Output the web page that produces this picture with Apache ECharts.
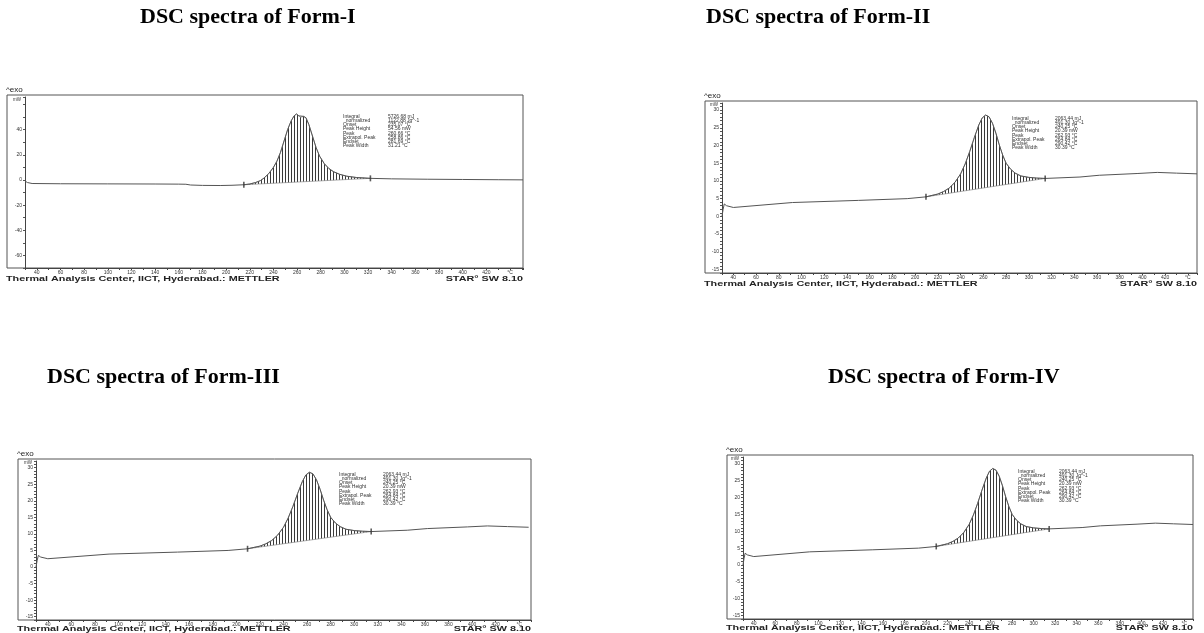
<!DOCTYPE html>
<html>
<head>
<meta charset="utf-8">
<script src="https://cdn.jsdelivr.net/npm/echarts@6/dist/echarts.min.js"></script>
<style>
html, body { margin: 0; padding: 0; background: #fff; }
#main { width: 1204px; height: 633px; }
</style>
</head>
<body>
<div id="main"></div>
<script>
// Form-I trace: temperature (°C) and heat flow (mW)
var formITemp = [30, 32, 36, 60, 100, 140, 160, 166, 170, 180, 195, 205, 215, 220, 225, 229, 232, 236, 240, 243, 246, 249, 252, 255, 257.5, 259.5, 261.5, 263, 265.5, 267.5, 270, 273, 276, 279, 283, 287, 291, 296, 302, 310, 322, 340, 370, 400, 430, 451];
var formIHeat = [-0.8, -2.0, -2.8, -3.0, -3.1, -3.2, -3.3, -3.4, -4.0, -4.3, -4.4, -4.2, -3.8, -3.2, -2.0, -0.5, 1.5, 5, 10, 15, 22, 31, 40, 47, 51, 52.5, 51, 49.8, 50.6, 49.5, 44, 35, 26, 19, 13, 9, 6.5, 4.5, 3.0, 2.0, 1.3, 0.9, 0.6, 0.4, 0.2, 0.1];
var formILimits = [[215, -3.8], [322, 1.3]];

// Form-II trace (Form-III and Form-IV show the same run)
var formIITemp = [30, 31, 32, 33, 34, 35, 40, 92, 150, 193, 209.5, 220, 225, 230, 235, 240, 244, 248, 252, 256, 259, 262, 265, 268, 271, 274, 277, 280, 284, 288, 293, 300, 307, 314.4, 345, 362, 396, 413, 430, 448];
var formIIHeat = [0, 2.0, 3.5, 3.7, 3.0, 2.5, 2.5, 3.9, 4.5, 5.0, 5.5, 6.3, 7.0, 8.0, 9.6, 12.0, 14.8, 18.3, 22.2, 25.8, 27.8, 28.6, 28.1, 26.3, 23.5, 20.2, 17.3, 15.0, 13.3, 12.2, 11.4, 11.0, 10.8, 10.7, 11.1, 11.6, 12.1, 12.4, 12.2, 12.0];
var formIILimits = [[209.5, 5.5], [314.4, 10.7]];

var statLabels = ['Integral', '  normalized', 'Onset', 'Peak Height', 'Peak', 'Extrapol. Peak', 'Endset', 'Peak Width'];
var formIStats = ['5726.68 mJ', '1122.88 Jg^-1', '235.07 °C', '54.56 mW', '260.66 °C', '258.86 °C', '281.69 °C', '31.21 °C'];
var formIIStats = ['2063.44 mJ', '491.30 Jg^-1', '240.25 °C', '20.39 mW', '262.93 °C', '264.84 °C', '290.42 °C', '30.39 °C'];

var titles = ['DSC spectra of Form-I', 'DSC spectra of Form-II', 'DSC spectra of Form-III', 'DSC spectra of Form-IV'];
var footerLeft = 'Thermal Analysis Center, IICT, Hyderabad.: METTLER';
var footerRight = 'STAR\u00b0 SW 8.10';

// layout of the four panels
var panels = [
    { temp: formITemp, heat: formIHeat, lim: formILimits, stats: formIStats,
      grid: { left: 25, top: 97, width: 498, height: 171 }, frameLeft: 7,
      xMax: 451, yMin: -70, yMax: 66, yStep: 10, yLabelStep: 20, yLabelMin: -60, yLabelMax: 40,
      title: [140, 18], statsPos: [343, 388, 114], footerTop: 275 },
    { temp: formIITemp, heat: formIIHeat, lim: formIILimits, stats: formIIStats,
      grid: { left: 722, top: 103, width: 475, height: 170 }, frameLeft: 705,
      xMax: 448, yMin: -16, yMax: 32, yStep: 1, yLabelStep: 5, yLabelMin: -15, yLabelMax: 30,
      title: [706, 18], statsPos: [1012, 1055, 116], footerTop: 279.5 },
    { temp: formIITemp, heat: formIIHeat, lim: formIILimits, stats: formIIStats,
      grid: { left: 36, top: 461, width: 495, height: 159 }, frameLeft: 18,
      xMax: 450, yMin: -16, yMax: 32, yStep: 1, yLabelStep: 5, yLabelMin: -15, yLabelMax: 30,
      title: [47, 378], statsPos: [339, 383, 472], footerTop: 624.5 },
    { temp: formIITemp, heat: formIIHeat, lim: formIILimits, stats: formIIStats,
      grid: { left: 743, top: 457, width: 450, height: 162 }, frameLeft: 727,
      xMax: 448, yMin: -16, yMax: 32, yStep: 1, yLabelStep: 5, yLabelMin: -15, yLabelMax: 30,
      title: [828, 378], statsPos: [1018, 1059, 469], footerTop: 624 }
];

function hatchPattern() {
    var c = document.createElement('canvas');
    c.width = 3; c.height = 4;
    var ctx = c.getContext('2d');
    ctx.fillStyle = '#3a3a3a';
    ctx.fillRect(0, 0, 1, 4);
    return c;
}
var pattern = hatchPattern();

function hatchItem(p) {
    return function (params, api) {
        var pts = [api.coord(p.lim[0])];
        for (var i = 0; i < p.temp.length; i++) {
            if (p.temp[i] > p.lim[0][0] && p.temp[i] < p.lim[1][0]) {
                pts.push(api.coord([p.temp[i], p.heat[i]]));
            }
        }
        pts.push(api.coord(p.lim[1]));
        return {
            type: 'polygon',
            shape: { points: pts },
            style: { fill: { image: pattern, repeat: 'repeat' }, stroke: '#777', lineWidth: 0.6 }
        };
    };
}

var grids = [], xAxes = [], yAxes = [], series = [], graphics = [];
var smallFont = 'Liberation Sans';
var footerFont = 'bold 8px "Liberation Sans"';

panels.forEach(function (p, k) {
    grids.push(p.grid);
    xAxes.push({
        type: 'value', gridIndex: k, min: 30, max: p.xMax, interval: 10,
        axisLine: { onZero: false, lineStyle: { color: '#444', width: 1 } },
        axisTick: { length: 2, lineStyle: { color: '#444' } },
        splitLine: { show: false },
        axisLabel: {
            fontSize: 5, color: '#333', margin: 2, fontFamily: smallFont,
            formatter: function (v) {
                if (v === 440) return '\u00b0C';
                return (v % 20 === 0 && v >= 40 && v <= 420) ? String(v) : '';
            }
        }
    });
    yAxes.push({
        type: 'value', gridIndex: k, min: p.yMin, max: p.yMax, interval: p.yStep,
        axisLine: { show: true, onZero: false, lineStyle: { color: '#444', width: 1 } },
        axisTick: { show: true, length: 2, lineStyle: { color: '#555' } },
        splitLine: { show: false },
        name: 'mW', nameLocation: 'end', nameGap: -5,
        nameTextStyle: { fontSize: 4.5, color: '#333', align: 'right', padding: [0, 4, 0, 0] },
        axisLabel: {
            fontSize: 5, color: '#333', margin: 3, fontFamily: smallFont,
            formatter: function (v) {
                return (v % p.yLabelStep === 0 && v >= p.yLabelMin && v <= p.yLabelMax) ? String(v) : '';
            }
        }
    });
    series.push({
        type: 'custom', xAxisIndex: k, yAxisIndex: k, silent: true, z: 1,
        renderItem: hatchItem(p), data: [p.lim[0]]
    });
    series.push({
        type: 'line', xAxisIndex: k, yAxisIndex: k, showSymbol: false, z: 3,
        lineStyle: { color: '#555', width: 1 },
        data: p.temp.map(function (t, i) { return [t, p.heat[i]]; })
    });
    series.push({
        type: 'scatter', xAxisIndex: k, yAxisIndex: k, symbol: 'rect', symbolSize: [1.6, 6], z: 4,
        itemStyle: { color: '#333' }, data: p.lim
    });

    var g = p.grid;
    var right = g.left + g.width;
    graphics.push({
        type: 'rect', silent: true, z: 0,
        shape: { x: p.frameLeft, y: g.top - 2, width: right - p.frameLeft, height: g.height + 2 },
        style: { fill: null, stroke: '#555', lineWidth: 1 }
    });
    graphics.push({
        type: 'text', left: p.frameLeft - 1, top: g.top - 11,
        style: { text: '^exo', font: '8px "Liberation Sans"', fill: '#222' }
    });
    graphics.push({
        type: 'text', left: p.title[0], top: p.title[1] - 12,
        style: { text: titles[k], font: 'bold 22px "Liberation Serif"', fill: '#000' }
    });
    graphics.push({
        type: 'text', left: p.statsPos[0], top: p.statsPos[2],
        style: { text: statLabels.join('\n'), font: '5px "Liberation Sans"', lineHeight: 4.2, fill: '#333' }
    });
    graphics.push({
        type: 'text', left: p.statsPos[1], top: p.statsPos[2],
        style: { text: p.stats.join('\n'), font: '5px "Liberation Sans"', lineHeight: 4.2, fill: '#333' }
    });
    // footer strip is printed wide, so stretch it sideways
    graphics.push({
        type: 'text', x: p.frameLeft - 1, y: p.footerTop, scaleX: 1.35,
        style: { text: footerLeft, font: footerFont, fill: '#222', align: 'left', verticalAlign: 'top' }
    });
    graphics.push({
        type: 'text', x: right, y: p.footerTop, scaleX: 1.35,
        style: { text: footerRight, font: footerFont, fill: '#222', align: 'right', verticalAlign: 'top' }
    });
});

var chart = echarts.init(document.getElementById('main'));
chart.setOption({
    animation: false,
    backgroundColor: '#fff',
    grid: grids,
    xAxis: xAxes,
    yAxis: yAxes,
    series: series,
    graphic: graphics
});
</script>
</body>
</html>
